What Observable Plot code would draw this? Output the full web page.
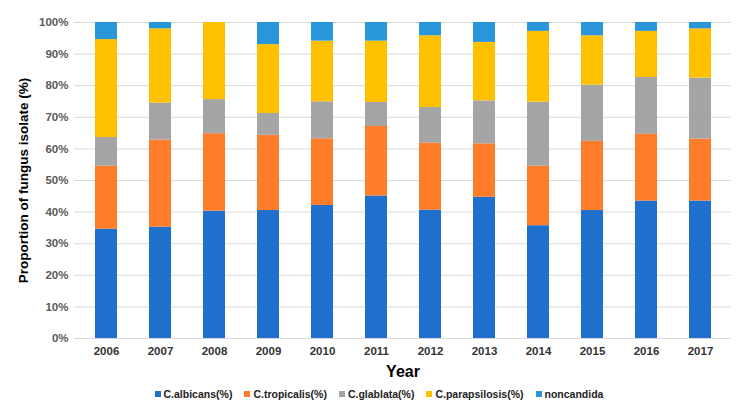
<!DOCTYPE html>
<html>
<head>
<meta charset="utf-8">
<script src="https://cdn.jsdelivr.net/npm/d3@7"></script>
<script src="https://cdn.jsdelivr.net/npm/@observablehq/plot@0.6"></script>
<style>
  body { margin: 0; background: #fff; font-family: "Liberation Sans", Arial, sans-serif; }
  #chart svg { display: block; }
  #chart svg text { font-weight: bold; }
  #chart [aria-label="y-axis label"] text { font-size: 13.5px; fill: #000; }
  #chart [aria-label="x-axis label"] text { font-size: 16px; fill: #000; }
  #legend { display: flex; justify-content: center; gap: 12px; font-size: 10.5px; font-weight: bold; color: #222; margin-left: 16px; height: 22px; align-items: center; }
  #legend span.item { display: inline-flex; align-items: center; }
  #legend span.sw { width: 6px; height: 6px; display: inline-block; margin-right: 3px; }
</style>
</head>
<body>
<div id="chart"></div>
<div id="legend"></div>
<script>
const years = ["2006","2007","2008","2009","2010","2011","2012","2013","2014","2015","2016","2017"];
const series = ["C.albicans(%)","C.tropicalis(%)","C.glablata(%)","C.parapsilosis(%)","noncandida"];
const colors = ["#1f6fcc","#ff7c2a","#a5a5a5","#ffc000","#2896d8"];
const albicans     = [34.6, 35.2, 40.3, 40.5, 42.1, 45.1, 40.6, 44.7, 35.7, 40.5, 43.5, 43.5];
const tropicalis   = [19.9, 27.6, 24.5, 23.8, 21.1, 22.0, 21.2, 16.9, 18.8, 21.9, 21.1, 19.6];
const glablata     = [ 9.1, 11.7, 10.8,  6.9, 11.7,  7.6, 11.3, 13.6, 20.3, 17.8, 18.0, 19.3];
const parapsilosis = [31.0, 23.5, 24.4, 21.8, 19.2, 19.4, 22.7, 18.5, 22.4, 15.6, 14.6, 15.6];
const noncandida   = [ 5.4,  2.0,  0.0,  7.0,  5.9,  5.9,  4.2,  6.3,  2.8,  4.2,  2.8,  2.0];
const yTicks = [0,10,20,30,40,50,60,70,80,90,100];

const valueArrays = [albicans, tropicalis, glablata, parapsilosis, noncandida];
const data = [];
years.forEach((y, i) => {
  series.forEach((s, j) => data.push({year: y, species: s, value: valueArrays[j][i]}));
});

const chart = Plot.plot({
  width: 742,
  height: 383,
  marginLeft: 74,
  marginRight: 11,
  marginTop: 22,
  marginBottom: 45,
  style: {fontFamily: "'Liberation Sans', Arial, sans-serif", fontSize: "11px", color: "#595959"},
  x: {domain: years, paddingInner: 0.6, paddingOuter: 0.3, label: null},
  y: {domain: [0, 100], label: null},
  color: {domain: series, range: colors},
  marks: [
    Plot.gridY(yTicks, {stroke: "#d9d9d9", strokeOpacity: 1}),
    Plot.barY(data, {x: "year", y: "value", fill: "species", order: series}),
    Plot.axisY(yTicks, {tickSize: 0, tickPadding: 6, tickFormat: d => d + "%", fill: "#595959", fontSize: 11.5,
      label: "Proportion of fungus isolate (%)", labelAnchor: "center", labelArrow: "none", labelOffset: 56}),
    Plot.axisX({tickSize: 0, tickPadding: 8, fill: "#333", fontSize: 11.5,
      label: "Year", labelAnchor: "center", labelArrow: "none", labelOffset: 38}),
    Plot.ruleY([0], {stroke: "#d9d9d9"})
  ]
});
document.getElementById("chart").append(chart);

const legend = document.getElementById("legend");
series.forEach((s, i) => {
  const item = document.createElement("span");
  item.className = "item";
  const sw = document.createElement("span");
  sw.className = "sw";
  sw.style.background = colors[i];
  item.append(sw, document.createTextNode(s));
  legend.append(item);
});
</script>
</body>
</html>
